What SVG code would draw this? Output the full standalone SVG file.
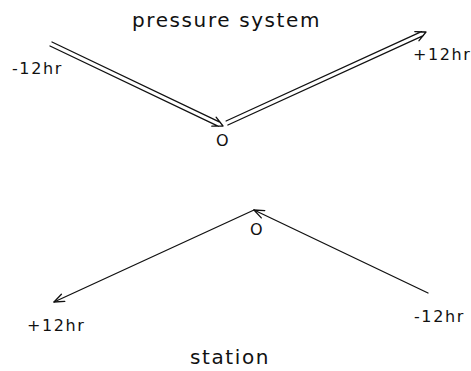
<svg xmlns="http://www.w3.org/2000/svg" width="471" height="371" viewBox="0 0 471 371">
  <defs>
    <style>
      .lbl { font-family: "DejaVu Sans", "Liberation Sans", sans-serif; font-size: 16px; fill: #111; letter-spacing: 1.6px; }
      .title { font-family: "DejaVu Sans", "Liberation Sans", sans-serif; font-size: 20px; fill: #111; letter-spacing: 1.6px; }
      .ln { fill: none; stroke: #111; stroke-width: 1.3; stroke-linecap: round; stroke-linejoin: round; }
    </style>
    <marker id="head" viewBox="0 0 12 10" refX="11" refY="5" markerWidth="12" markerHeight="10" markerUnits="userSpaceOnUse" orient="auto">
      <path d="M1,1 L11,5 L1,9" fill="none" stroke="#111" stroke-width="1.3" stroke-linecap="round" stroke-linejoin="round"/>
    </marker>
  </defs>
  <rect width="471" height="371" fill="#fff"/>

  <!-- titles -->
  <g id="title-pressure"><text class="title" x="132" y="27">pressure system</text></g>
  <g id="title-station"><text class="title" x="190" y="364">station</text></g>

  <!-- pressure system track points -->
  <g id="ps-minus12"><text class="lbl" x="12" y="74">-12hr</text></g>
  <g id="ps-zero"><text class="lbl" x="216" y="146" letter-spacing="0">O</text></g>
  <g id="ps-plus12"><text class="lbl" x="413" y="60" letter-spacing="0.9">+12hr</text></g>

  <!-- station track points -->
  <g id="st-zero"><text class="lbl" x="250" y="234.5" letter-spacing="0">O</text></g>
  <g id="st-plus12"><text class="lbl" x="27" y="331">+12hr</text></g>
  <g id="st-minus12"><text class="lbl" x="414" y="322" letter-spacing="1.2">-12hr</text></g>

  <g id="connectors">
    <!-- double-line arrow: -12hr to O -->
    <path class="ln" d="M50,46 L218.5,126.3 M52,42 L220.3,122.3 M211.8,126.2 L223,126 L216.1,117.2"/>
    <!-- double-line arrow: O to +12hr -->
    <path class="ln" d="M227.9,125 L423.3,35.7 M226.1,121 L421.4,31.7 M419,40.7 L426,32 L414.8,31.6"/>
    <!-- single arrows, station -->
    <path class="ln" d="M254,210 L54,302" marker-end="url(#head)"/>
    <path class="ln" d="M428,293 L254,210" marker-end="url(#head)"/>
  </g>
</svg>
